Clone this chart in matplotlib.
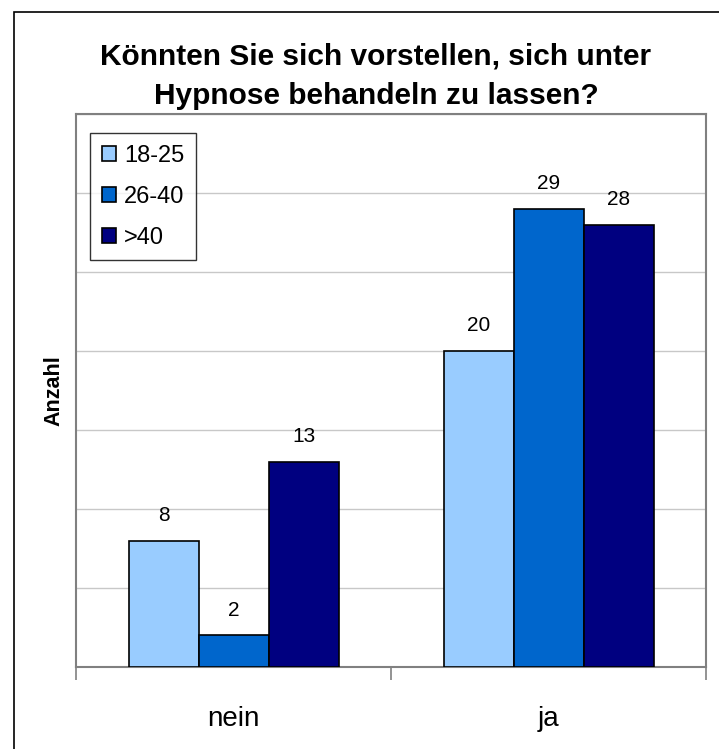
import matplotlib
matplotlib.use("Agg")
import matplotlib.pyplot as plt
import numpy as np
from matplotlib.patches import Rectangle

categories = ["nein", "ja"]
series_names = ["18-25", "26-40", ">40"]
values_1825 = [8, 20]
values_2640 = [2, 29]
values_40 = [13, 28]
colors = ["#99CCFF", "#0066CC", "#000080"]
title = "Könnten Sie sich vorstellen, sich unter\nHypnose behandeln zu lassen?"
ylabel = "Anzahl"

plt.rcParams['font.family'] = ['Liberation Sans', 'DejaVu Sans']

W, H = 719, 749
fig = plt.figure(figsize=(W/100, H/100), dpi=100)
fig.patches.append(Rectangle((14/W, -0.1), 1.2, 1 - 12/H + 0.1, transform=fig.transFigure,
                             fill=False, edgecolor="black", linewidth=1.2))

ax = fig.add_axes([76/W, 1 - 667/H, (706-76)/W, (667-114)/H])
series = [values_1825, values_2640, values_40]
bw = 1/4.5
x = np.arange(len(categories))
for i, (vals, name, c) in enumerate(zip(series, series_names, colors)):
    pos = x + (i - 1) * bw
    ax.bar(pos, vals, width=bw, color=c, edgecolor="black", linewidth=1.2,
           label=name, zorder=3)
    for p, v in zip(pos, vals):
        ax.text(p, v + 1.0, str(v), ha="center", va="bottom", fontsize=15, zorder=4)

ax.set_xlim(-0.5, 1.5)
ax.set_ylim(0, 35)
ax.set_yticks([0, 5, 10, 15, 20, 25, 30, 35])
ax.yaxis.grid(True, color="#C8C8C8", linewidth=1, zorder=0)
ax.tick_params(axis="y", length=0, labelleft=False)
ax.set_xticks([-0.5, 0.5, 1.5])
ax.set_xticklabels([])
ax.set_xticks(x, minor=True)
ax.set_xticklabels(categories, minor=True, fontsize=20)
ax.tick_params(axis="x", which="major", length=9, width=1.2, color="#808080", direction="out")
ax.tick_params(axis="x", which="minor", length=0, pad=28)
for s in ["top", "right", "left", "bottom"]:
    ax.spines[s].set_color("#808080")
    ax.spines[s].set_linewidth(1.5)

ax.set_ylabel(ylabel, fontsize=15.5, fontweight="bold")
ax.yaxis.set_label_coords(-12/630, 0.5)

fig.text(376/W, 1 - 76/H, title, ha="center", va="center", fontsize=21.5,
         fontweight="bold", linespacing=1.5)

leg = ax.legend(loc="upper left", bbox_to_anchor=(14/630, 1 - 19/553), fontsize=17,
                frameon=True, fancybox=False, edgecolor="black", borderpad=0.5,
                handlelength=0.6, handleheight=0.6, handletextpad=0.35,
                labelspacing=0.8, borderaxespad=0)
leg.get_frame().set_linewidth(1.0)

fig.savefig("out.png", dpi=100)
